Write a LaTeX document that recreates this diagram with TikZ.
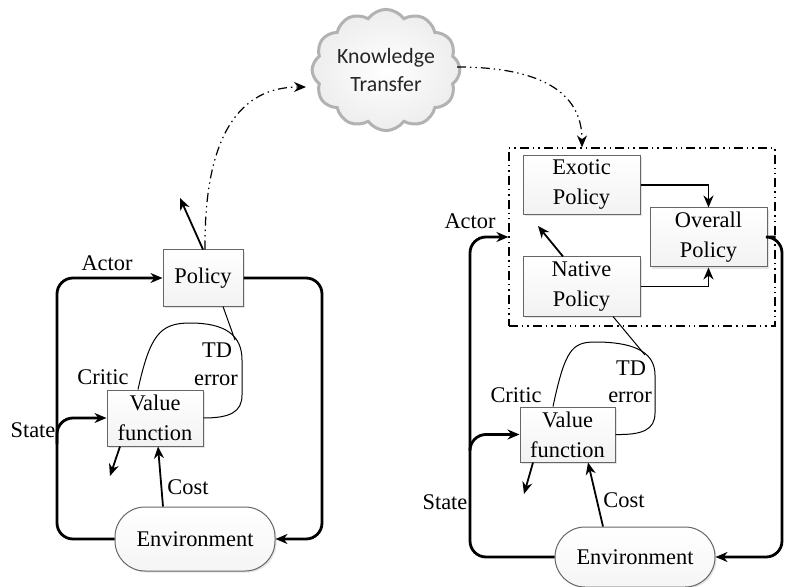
\documentclass[tikz,border=0pt]{standalone}
\usepackage{fontspec}
\setmainfont{Liberation Serif}
\newfontfamily\cloudfont{Carlito}
\usetikzlibrary{arrows.meta,shapes.symbols,shadows,calc}
\begin{document}
\begin{tikzpicture}[x=0.5pt,y=-0.5pt,
  every node/.style={font=\fontsize{11.2}{15}\selectfont, inner sep=0pt},
  box/.style={draw=gray!80!black, line width=0.5pt, top color=white, bottom color=gray!10, align=center,
    drop shadow={shadow xshift=0.8pt, shadow yshift=-0.8pt, fill=gray!60, opacity=0.35}},
  envbox/.style={draw=gray!80!black, line width=0.5pt, rounded corners=15pt, top color=white, bottom color=gray!8,
    drop shadow={shadow xshift=0.8pt, shadow yshift=-0.8pt, fill=gray!60, opacity=0.35}},
  main/.style={line width=1.4pt, rounded corners=8pt, -{Stealth[length=6pt,width=5pt]}},
  mainnotip/.style={line width=1.4pt, rounded corners=8pt},
  mid/.style={line width=0.9pt, -{Stealth[length=6pt,width=5pt]}},
  thinl/.style={line width=0.5pt},
  ddot/.style={line width=0.6pt, dash pattern=on 4.5pt off 2pt on 0.7pt off 2pt on 0.7pt off 2pt},
]
\useasboundingbox (0,0) rectangle (785,587);

% ---------- left diagram ----------
\node[box, minimum width=40pt, minimum height=28pt] (pol) at (203,278) {Policy};
\node[box, minimum width=48pt, minimum height=28pt] (vf) at (155,418) {Value\\function};
\node[envbox, minimum width=80pt, minimum height=32pt] (env) at (195,539) {Environment};

\coordinate (lx) at (57,400);
\coordinate (rx) at (322,400);
\coordinate (stL) at (57,444);
\coordinate (polUp) at (180,198);
\coordinate (vfDown) at (110,476);
\coordinate (tdL) at (235,340);

\draw[main] (env.west) -| (lx) |- (pol.west);
\draw[main] (pol.east) -| (rx) |- (env.east);
\draw[main] (stL) |- (vf.west);
\draw[mid] (pol.north) -- (polUp);
\draw[mid] ([xshift=-17.5pt]vf.south) -- (vfDown);
\draw[mid] ([xshift=-16pt]env.north) -- ([xshift=1.5pt]vf.south);
\draw[thinl] ([xshift=10pt]pol.south) -- (tdL);
\draw[thinl] ([xshift=-8.5pt]vf.north) .. controls (150,335) and (160,323) .. (190,323)
   .. controls (225,323) and (242,335) .. (242,360) -- (242,395)
   .. controls (242,412) and (230,418) .. (vf.east);

\node (actL) at (107,263) {Actor};
\node (criL) at (103,377) {Critic};
\node (tdLa) at (217,350) {TD};
\node (erL) at (216,380) {error};
\node (stLa) at (33,430) {State};
\node (coL) at (188,487) {Cost};

% ---------- cloud ----------
\node[cloud, cloud puffs=12, cloud puff arc=110, aspect=1.3, draw=gray!60, line width=1.5pt,
  inner color=white, outer color=gray!14, minimum width=72pt, minimum height=58pt,
  font=\cloudfont\fontsize{10.9}{14}\selectfont, align=center, text=black!85] (kt) at (386,70) {Knowledge\\Transfer};
\coordinate (ktIn) at (306,87);
\coordinate (ktOut) at (457,67);

% ---------- right diagram ----------
\node[draw, ddot, minimum width=133pt, minimum height=89pt] (grp) at (642,237) {};
\node[box, minimum width=58.5pt, minimum height=29.5pt] (ex) at (581.5,185) {Exotic\\Policy};
\node[box, minimum width=58.5pt, minimum height=29.5pt] (ov) at (708.5,237.5) {Overall\\Policy};
\node[box, minimum width=58.5pt, minimum height=29.5pt] (na) at (581.5,286.5) {Native\\Policy};
\node[box, minimum width=47.5pt, minimum height=27.5pt] (vfR) at (567.5,434.5) {Value\\function};
\node[envbox, minimum width=80pt, minimum height=30pt] (envR) at (635,557) {Environment};

\coordinate (lxR) at (470,400);
\coordinate (rxR) at (782,400);
\coordinate (stR) at (470,448);
\coordinate (naUp) at (538,226);
\coordinate (vfRDown) at (524,494);
\coordinate (tdR) at (645,355);

\draw[main] (envR.west) -| (lxR) |- (grp.west);
\draw[mainnotip] (grp.east) -| (rxR);
\draw[main] (rxR) |- (envR.east);
\draw[main] (stR) |- (vfR.west);
\draw[mid] (ex.east) -| (ov.north);
\draw[mid] (na.east) -| (ov.south);
\draw[mid] ([xshift=-9.25pt]na.north) -- (naUp);
\draw[mid] ([xshift=-17.25pt]vfR.south) -- (vfRDown);
\draw[mid] ([xshift=-16pt]envR.north) -- ([xshift=10.25pt]vfR.south);
\draw[thinl] ([xshift=15.75pt]na.south) -- (tdR);
\draw[thinl] ([xshift=-7.25pt]vfR.north) .. controls (565,350) and (572,342) .. (595,342)
   .. controls (630,342) and (655,350) .. (655,375) -- (655,413)
   .. controls (655,430) and (642,435) .. (vfR.east);

\node (actR) at (470,221) {Actor};
\node (criR) at (516,395) {Critic};
\node (tdRa) at (631,368) {TD};
\node (erR) at (630,397) {error};
\node (stRa) at (445,502) {State};
\node (coR) at (624,500) {Cost};

% ---------- knowledge transfer connectors ----------
\draw[ddot, -{Stealth[length=6pt,width=5pt]}] ([xshift=1pt]pol.north) .. controls (204,135) and (240,87) .. (ktIn);
\draw[ddot, -{Stealth[length=6pt,width=5pt]}] (ktOut) .. controls (540,67) and (582,92) .. ([xshift=-30pt]grp.north);
\end{tikzpicture}
\end{document}
